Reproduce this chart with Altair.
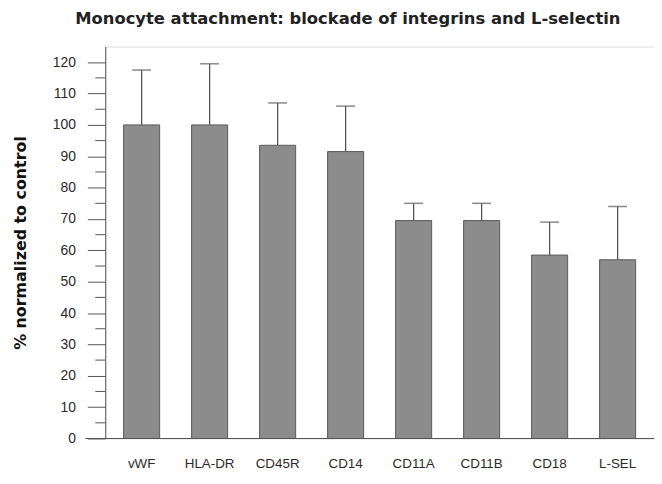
import altair as alt
import pandas as pd

categories = ["vWF", "HLA-DR", "CD45R", "CD14", "CD11A", "CD11B", "CD18", "L-SEL"]
means = [100, 100, 93.5, 91.5, 69.5, 69.5, 58.5, 57]
tops = [117.5, 119.5, 107, 106, 75, 75, 69, 74]
major_ticks = list(range(0, 121, 10))
minor_ticks = list(range(5, 120, 10))

df = pd.DataFrame({"cat": categories, "mean": means, "top": tops})
minor_df = pd.DataFrame({"v": minor_ticks})
base_df = pd.DataFrame({"v": [0]})

W, H = 553, 395
ink = "#555555"
yscale = alt.Scale(domain=[0, 125], nice=False, zero=True)
ytitle = "% normalized to control"

xaxis = alt.Axis(title=None, labelAngle=0, ticks=False, domain=False,
                 labelPadding=18, labelFont="Liberation Sans", labelFontSize=13.5,
                 labelColor="#2a2a2a")
xscale = alt.Scale(paddingInner=0.47, paddingOuter=0.27)

yaxis = alt.Axis(values=major_ticks, grid=False, tickSize=18, tickColor=ink,
                 domainColor=ink, labelPadding=12, labelFont="Liberation Sans",
                 labelFontSize=14, labelColor="#2a2a2a", labelOverlap=False,
                 labelFlush=False, title=ytitle,
                 titleFont="DejaVu Sans", titleFontSize=16, titleFontWeight="bold",
                 titleColor="#111111", titlePadding=24)


def X():
    return alt.X("cat:N", sort=categories, scale=xscale, axis=xaxis)


def Y(field):
    return alt.Y(field, scale=yscale, axis=yaxis)


bars = alt.Chart(df).mark_bar(fill="#8c8c8c", stroke="#5a5a5a", strokeWidth=1).encode(
    x=X(), y=Y("mean:Q"),
)
err = alt.Chart(df).mark_rule(color=ink, strokeWidth=1.3).encode(
    x=X(), y=Y("mean:Q"), y2="top:Q",
)
caps = alt.Chart(df).mark_tick(color=ink, size=19, thickness=1.5).encode(
    x=X(), y=Y("top:Q"),
)
minor = alt.Chart(minor_df).mark_rule(color=ink, strokeWidth=1).encode(
    y=Y("v:Q"), x=alt.value(-10), x2=alt.value(0),
)
baseline = alt.Chart(base_df).mark_rule(color=ink, strokeWidth=1.2).encode(
    y=Y("v:Q"), x=alt.value(-20), x2=alt.value(W),
)

chart = alt.layer(bars, err, caps, minor, baseline).properties(
    width=W, height=H,
    autosize=alt.AutoSizeParams(type="none"),
    padding={"left": 98, "top": 37, "right": 0, "bottom": 40},
    title=alt.TitleParams(
        "Monocyte attachment: blockade of integrins and L-selectin",
        font="DejaVu Sans", fontSize=16.5, fontWeight="bold", color="#222222",
        anchor="middle", dx=-32, offset=19,
    ),
).configure_view(stroke="#888888", strokeWidth=1.2).configure(background="white")

chart.save("out.html", embed_options={"renderer": "svg", "actions": False})
